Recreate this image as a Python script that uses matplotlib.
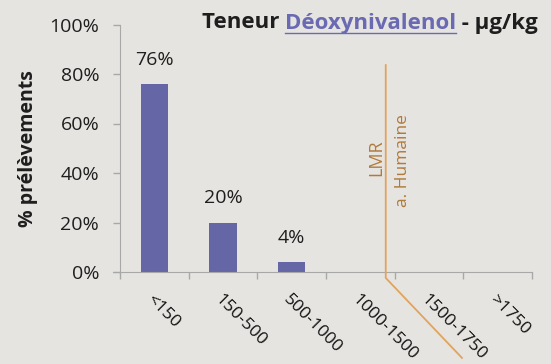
import matplotlib
matplotlib.use("Agg")
import matplotlib.pyplot as plt
from matplotlib.ticker import FixedLocator, FuncFormatter

plt.rcParams['font.family'] = ['Open Sans', 'DejaVu Sans']

categories = ["<150", "150-500", "500-1000", "1000-1500", "1500-1750", ">1750"]
shares = [0.76, 0.20, 0.04, 0.0, 0.0, 0.0]
bar_labels = ["76%", "20%", "4%"]
y_ticks = [0.0, 0.2, 0.4, 0.6, 0.8, 1.0]

BG = "#E6E4E1"
BAR = "#6466A6"
LMR_COLOR = "#E0A45C"
LMR_TEXT = "#B07A3A"
AXIS = "#A8A8A8"
TXT = "#1E1E1E"

fig = plt.figure(figsize=(5.51, 3.64), dpi=100, facecolor=BG)
ax = fig.add_axes([120 / 551, 1 - 272 / 364, (532 - 120) / 551, (272 - 24.5) / 364])
ax.set_facecolor(BG)

x = list(range(len(categories)))
ax.bar(x, shares, width=0.4, color=BAR, zorder=2)
for i, lab in enumerate(bar_labels):
    ax.annotate(lab, (x[i], shares[i]), xytext=(0, 11), textcoords="offset points",
                ha="center", va="bottom", fontsize=14, color=TXT)

ax.set_xlim(-0.5, len(categories) - 0.5)
ax.set_ylim(0, 1)

# tick marks at category boundaries, labels at category centres
ax.xaxis.set_major_locator(FixedLocator([i - 0.5 for i in range(len(categories) + 1)]))
ax.xaxis.set_major_formatter(FuncFormatter(lambda v, p: ""))
ax.xaxis.set_minor_locator(FixedLocator(x))
ax.set_xticklabels(categories, minor=True, rotation=-45, ha="left", va="top",
                   rotation_mode="anchor", fontsize=12.5, color="#111111")
ax.tick_params(axis="x", which="minor", length=0, pad=14)
ax.tick_params(axis="x", which="major", length=5, color=AXIS, width=1)

ax.set_yticks(y_ticks)
ax.set_yticklabels([f"{int(round(t * 100))}%" for t in y_ticks], fontsize=14, color=TXT)
ax.tick_params(axis="y", length=5, color=AXIS, width=1, pad=10)

for s in ["top", "right"]:
    ax.spines[s].set_visible(False)
ax.spines["left"].set_color(AXIS)
ax.spines["bottom"].set_color(AXIS)
ax.spines["bottom"].set_bounds(-0.6, len(categories) - 0.5)

ax.set_ylabel("% prélèvements", fontsize=14, fontweight="bold", color=TXT, labelpad=8)

# LMR threshold marker (alimentation humaine)
lmr_x = 3.37
ax.plot([lmr_x, lmr_x, 4.48], [0.836, -0.024, -0.347], color=LMR_COLOR, lw=1.3,
        clip_on=False, zorder=3)
ax.text(lmr_x - 0.14, 0.46, "LMR", rotation=90, ha="center", va="center",
        fontsize=13, color=LMR_TEXT)
ax.text(lmr_x + 0.25, 0.45, "a. Humaine", rotation=90, ha="center", va="center",
        fontsize=12.5, color=LMR_TEXT)

# title with highlighted toxin name
TITLE_FS = 16
t1 = fig.text(202 / 551, 1 - 23 / 364, "Teneur ", fontsize=TITLE_FS, fontweight="bold",
              color=TXT, va="center", ha="left")
fig.canvas.draw()
r = fig.canvas.get_renderer()
bb = t1.get_window_extent(r)
t2 = fig.text(bb.x1 / fig.bbox.width, 1 - 23 / 364, "Déoxynivalenol", fontsize=TITLE_FS,
              fontweight="bold", color="#6A6AB2", va="center", ha="left")
bb2 = t2.get_window_extent(r)
fig.add_artist(plt.Line2D([bb2.x0 / fig.bbox.width, bb2.x1 / fig.bbox.width],
                          [(bb2.y0 + 1) / fig.bbox.height] * 2, color="#6A6AB2", lw=1))
fig.text(bb2.x1 / fig.bbox.width, 1 - 23 / 364, " - µg/kg", fontsize=TITLE_FS,
         fontweight="bold", color=TXT, va="center", ha="left")

fig.savefig("out.png", dpi=100, facecolor=BG)
